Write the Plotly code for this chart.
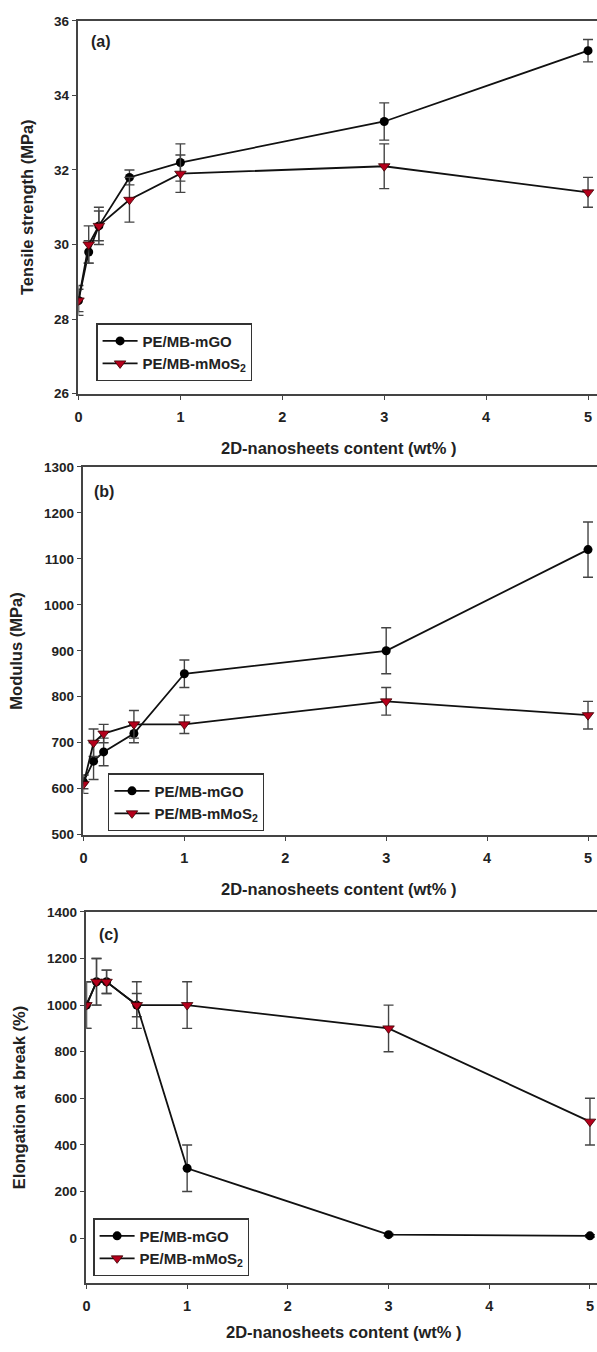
import plotly.graph_objects as go

W, H = 597, 1352

# ---------------- data ----------------
content = [0, 0.1, 0.2, 0.5, 1, 3, 5]

ts_mgo = [28.5, 29.8, 30.5, 31.8, 32.2, 33.3, 35.2]
ts_mgo_err = [0.4, 0.3, 0.4, 0.2, 0.5, 0.5, 0.3]
ts_mos2 = [28.5, 30.0, 30.5, 31.2, 31.9, 32.1, 31.4]
ts_mos2_err = [0.3, 0.5, 0.5, 0.6, 0.5, 0.6, 0.4]

mod_mgo = [615, 660, 680, 720, 850, 900, 1120]
mod_mgo_err = [15, 40, 30, 20, 30, 50, 60]
mod_mos2 = [610, 700, 720, 740, 740, 790, 760]
mod_mos2_err = [20, 30, 20, 30, 20, 30, 30]

el_mgo = [1000, 1100, 1100, 1000, 300, 15, 10]
el_mgo_err = [100, 100, 50, 50, 100, 5, 5]
el_mos2 = [1000, 1100, 1100, 1000, 1000, 900, 500]
el_mos2_err = [100, 100, 50, 100, 100, 100, 100]

x_ticks = [0, 1, 2, 3, 4, 5]
name_mgo = "PE/MB-mGO"
name_mos2 = "PE/MB-mMoS<sub>2</sub>"
x_title = "2D-nanosheets content (wt% )"
y_titles = ["Tensile strength (MPa)", "Modulus (MPa)", "Elongation at break (%)"]
panel_labels = ["(a)", "(b)", "(c)"]

# ---------------- layout geometry (pixels) ----------------
panels = [
    dict(left=75, top=14, bottom=391, xr=[0, 5.088], yr=[26, 36], dy=2,
         ytx=23, xt_y=446, xt_x=337, lab=(98, 35), leg=(93, 320)),
    dict(left=80, top=465, bottom=837, xr=[0, 5.089], yr=[500, 1300], dy=100,
         ytx=12, xt_y=892, xt_x=337, lab=(101, 490), leg=(105, 775)),
    dict(left=83, top=915, bottom=1290, xr=[0, 5.07], yr=[-191, 1400], dy=200,
         ytx=15, xt_y=1340, xt_x=342, lab=(106, 938), leg=(90, 1225)),
]

series = [
    (ts_mgo, ts_mgo_err, ts_mos2, ts_mos2_err),
    (mod_mgo, mod_mgo_err, mod_mos2, mod_mos2_err),
    (el_mgo, el_mgo_err, el_mos2, el_mos2_err),
]

FONT = "Liberation Sans, Arial, sans-serif"
fig = go.Figure()
layout = dict(width=W, height=H, margin=dict(l=0, r=0, t=0, b=0),
              paper_bgcolor="white", plot_bgcolor="white",
              font=dict(family=FONT, size=14, color="#222", weight="bold"),
              annotations=[])

def px(x):
    return x / W

def py(y):
    return 1 - y / H

for i, (p, s) in enumerate(zip(panels, series)):
    k = "" if i == 0 else str(i + 1)
    legname = "legend" + k
    xa, ya = "x" + k, "y" + k
    g, ge, m, me = s
    err_style = dict(type="data", visible=True, color="#444", thickness=1.4, width=5)
    fig.add_trace(go.Scatter(
        x=content, y=g, name=name_mgo, mode="lines+markers",
        line=dict(color="#111", width=1.8),
        marker=dict(symbol="circle", size=9, color="black"),
        error_y=dict(array=ge, **err_style),
        xaxis=xa, yaxis=ya, legend=legname))
    fig.add_trace(go.Scatter(
        x=content, y=m, name=name_mos2, mode="lines+markers",
        line=dict(color="#111", width=1.8),
        marker=dict(symbol="triangle-down", size=10, color="#b5001c",
                    line=dict(color="#3a0000", width=0.8)),
        error_y=dict(array=me, **err_style),
        xaxis=xa, yaxis=ya, legend=legname))

    layout["xaxis" + k] = dict(
        domain=[px(p["left"]), 1], range=p["xr"], anchor=ya,
        tickvals=x_ticks, ticks="outside", ticklen=5, tickcolor="#444",
        showline=True, linecolor="#444", linewidth=1.5, mirror=True,
        showgrid=False, zeroline=False, ticklabelstandoff=4,
        tickfont=dict(size=14.5, weight="bold", color="#222"))
    layout["yaxis" + k] = dict(
        domain=[py(p["bottom"]), py(p["top"])], range=p["yr"], anchor=xa,
        dtick=p["dy"], tick0=0, ticks="outside", ticklen=5, tickcolor="#444",
        showline=True, linecolor="#444", linewidth=1.5, mirror=False,
        showgrid=False, zeroline=False,
        tickfont=dict(size=13.5, weight="bold", color="#222"))
    layout[legname] = dict(
        x=px(p["leg"][0]), y=py(p["leg"][1]), xanchor="left", yanchor="top",
        bgcolor="white", bordercolor="#333", borderwidth=1.2,
        font=dict(size=15, weight="bold", color="#222"), itemwidth=35,
        tracegroupgap=0)
    layout["annotations"] += [
        dict(text=y_titles[i], x=px(p["ytx"]), y=py((p["top"] + p["bottom"]) / 2),
             xref="paper", yref="paper", xanchor="center", yanchor="middle",
             textangle=-90, showarrow=False,
             font=dict(size=16.5, weight="bold", color="#222")),
        dict(text=x_title, x=px(p["xt_x"]), y=py(p["xt_y"]),
             xref="paper", yref="paper", xanchor="center", yanchor="middle",
             showarrow=False, font=dict(size=16.5, weight="bold", color="#222")),
        dict(text=panel_labels[i], x=px(p["lab"][0]), y=py(p["lab"][1]),
             xref="paper", yref="paper", xanchor="center", yanchor="middle",
             showarrow=False, font=dict(size=16, weight="bold", color="#222")),
    ]

fig.update_layout(**layout)
fig.write_html("out.html")
